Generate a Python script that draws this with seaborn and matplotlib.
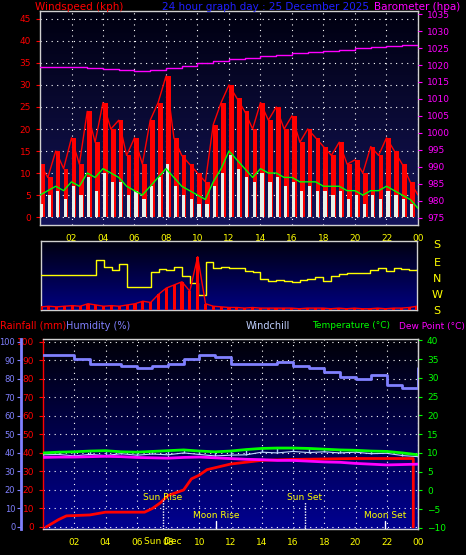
import numpy as np
import matplotlib
matplotlib.use("Agg")
import matplotlib.pyplot as plt
from matplotlib.colors import LinearSegmentedColormap
import seaborn as sns

sns.set_style("dark")
plt.rcParams['font.family'] = ['DejaVu Sans']

# ---------------- data ----------------
t_half = np.arange(0, 24.01, 0.5)          # 49 points
t_hour = np.arange(0, 25)                   # 25 points

gust = [12, 9, 15, 11, 18, 12, 24, 17, 26, 20, 22, 14, 18, 12, 22, 26, 32, 18, 14, 12,
        10, 8, 21, 26, 30, 27, 24, 20, 26, 22, 25, 20, 23, 17, 20, 18, 16, 14, 17, 12,
        13, 10, 16, 14, 18, 15, 12, 8, 5]
avg_speed = [5, 6, 7, 6, 8, 7, 10, 9, 11, 10, 9, 7, 6, 5, 7, 9, 11, 9, 7, 6, 5, 4, 8, 11,
             15, 13, 11, 9, 11, 10, 10, 9, 9, 8, 8, 8, 7, 7, 7, 6, 6, 5, 6, 6, 7, 6, 5, 4, 2]
speed = [3, 5, 6, 4, 7, 5, 9, 6, 10, 8, 8, 5, 6, 4, 7, 9, 12, 7, 5, 4, 3, 3, 7, 10, 14,
         11, 9, 8, 10, 8, 9, 7, 8, 6, 7, 6, 6, 5, 6, 4, 5, 3, 5, 4, 6, 5, 4, 3, 2]
baro = [1019.5, 1019.4, 1019.3, 1019.1, 1018.8, 1018.5, 1018.3, 1018.6, 1019.2, 1019.8,
        1020.6, 1021.3, 1021.8, 1022.2, 1022.6, 1023.0, 1023.4, 1023.8, 1024.2, 1024.5,
        1024.9, 1025.2, 1025.5, 1025.8, 1025.9]

wind_dir = [15, 15, 15, 15, 15, 15, 15, 95, 60, 40, 75, -55, -50, -50, 30, 45, 40, 60,
            10, -30, -95, 85, 55, 60, 50, 50, 35, 30, -10, -20, -15, -20, -25, -15, -10,
            5, -20, 10, 20, 25, 25, 25, 40, 55, 35, 50, 45, 40, 45]
dir_speed = [5, 6, 5, 6, 7, 6, 10, 8, 6, 7, 6, 8, 10, 14, 12, 25, 35, 40, 45, 30, 85, 10,
             6, 5, 4, 4, 3, 4, 3, 3, 3, 3, 3, 2, 3, 3, 3, 2, 3, 2, 3, 2, 2, 3, 2, 3, 3, 4, 6]

humidity = [93, 93, 91, 88, 88, 87, 86, 87, 88, 91, 93, 92, 88, 88, 88, 89, 87, 86, 84,
            81, 80, 82, 77, 75, 86]
rain_t = [0.2, 1, 1.5, 3, 4, 6.5, 7, 7.5, 8, 9, 9.5, 10, 10.5, 12, 14, 16, 20, 23.7, 23.7]
rain = [0, 4, 6, 6.5, 8, 8, 10, 13, 17, 20, 26, 28, 31, 34, 36, 36.5, 37, 37, 0]
temp = [10.0, 10.2, 10.3, 10.5, 10.6, 10.3, 10.2, 10.4, 10.6, 10.8, 10.5, 10.3, 10.5,
        10.9, 11.2, 11.3, 11.3, 11.2, 11.0, 10.8, 10.7, 10.5, 10.4, 10.0, 9.5]
dew = [8.8, 8.9, 8.9, 9.0, 9.1, 9.0, 8.8, 8.7, 8.6, 8.8, 8.9, 8.7, 8.5, 8.3, 8.2, 8.0,
       8.0, 7.8, 7.6, 7.5, 7.2, 7.0, 6.8, 6.9, 7.0]
windchill = [9.5, 9.6, 9.2, 9.6, 9.3, 9.8, 9.4, 9.7, 9.5, 10.0, 9.6, 9.2, 9.4, 9.5, 10.2,
             10.0, 10.4, 10.1, 10.3, 10.0, 10.2, 9.8, 9.9, 9.3, 9.0]

hour_ticks = list(range(2, 25, 2))
hour_labels = ["02", "04", "06", "08", "10", "12", "14", "16", "18", "20", "22", "00"]
events = [("Sun Rise", 7.68, 497, 500), ("Moon Rise", 11.1, 516, 521),
          ("Sun Set", 16.77, 497, 502), ("Moon Set", 21.9, 516, 521)]

# ---------------- figure ----------------
W, H = 466, 555
fig = plt.figure(figsize=(W / 100, H / 100), dpi=100, facecolor="black")

def pax(x0, y0, x1, y1):
    return fig.add_axes([x0 / W, 1 - y1 / H, (x1 - x0) / W, (y1 - y0) / H])

def grad(ax, c_top, c_bot):
    cm = LinearSegmentedColormap.from_list("g", [c_bot, c_top])
    ax.imshow(np.linspace(0, 1, 100).reshape(-1, 1), cmap=cm, origin="lower",
              extent=[0, 1, 0, 1], transform=ax.transAxes, aspect="auto", zorder=0)

def frame(ax):
    for s in ax.spines.values():
        s.set_color("#d0d0d0")
        s.set_linewidth(1)
    ax.set_xlim(0, 24)
    ax.grid(True, color="white", linestyle=(0, (1, 4)), linewidth=0.8)

fs = 6.5

# ---------- top panel ----------
ax1 = pax(40, 11, 418, 225)
grad(ax1, "#000010", "#14145a")
frame(ax1)
ax1.set_ylim(-1.8, 46.8)
ax1.set_yticks(range(0, 46, 5))
ax1.tick_params(axis="y", colors="red", labelsize=fs, length=3)
ax1.set_xticks(hour_ticks)
ax1.set_xticklabels(hour_labels)
ax1.tick_params(axis="x", colors="#e0e0e0", labelcolor="yellow", labelsize=fs, length=3)
ax1.bar(t_half, gust, width=0.3, color="red", zorder=2, align="edge", linewidth=0)
sns.lineplot(x=t_half, y=gust, ax=ax1, color="red", linewidth=1, zorder=2)
ax1.bar(t_half, speed, width=0.2, color="#e8f0e8", zorder=3, align="edge", linewidth=0)
sns.lineplot(x=t_half, y=avg_speed, ax=ax1, color="#00ff00", linewidth=1, zorder=4)
ax1b = ax1.twinx()
ax1b.set_ylim(972.9, 1035.9)
ax1b.set_yticks(range(975, 1036, 5))
ax1b.tick_params(axis="y", colors="magenta", labelsize=fs, length=3)
sns.lineplot(x=t_hour, y=baro, ax=ax1b, color="magenta", linewidth=1, drawstyle="steps-post")
for s in ax1b.spines.values():
    s.set_visible(False)
ax1b.grid(False)

fig.text(35 / W, 1 - 7 / H, "Windspeed (kph)", color="red", fontsize=7.5, va="center")
fig.text(265 / W, 1 - 7 / H, "24 hour graph day : 25 December 2025", color="#2020ff",
         fontsize=7.5, va="center", ha="center")
fig.text(460 / W, 1 - 7 / H, "Barometer (hpa)", color="magenta", fontsize=7.5,
         va="center", ha="right")

# ---------- middle panel ----------
ax2 = pax(41, 241, 417, 310)
grad(ax2, "#000010", "#000080")
frame(ax2)
ax2.grid(False)
ax2.set_xticks([])
ax2.set_yticks([])
ax2.set_ylim(-180, 202)
sns.lineplot(x=t_half, y=wind_dir, ax=ax2, color="yellow", linewidth=1,
             drawstyle="steps-post", zorder=3)
ax2b = ax2.twinx()
ax2b.set_ylim(0, 110)
ax2b.set_yticks([])
ax2b.bar(t_half, dir_speed, width=0.2, color="red", zorder=2, linewidth=0)
sns.lineplot(x=t_half, y=dir_speed, ax=ax2b, color="red", linewidth=1, zorder=2)
for s in ax2b.spines.values():
    s.set_visible(False)
for lab, y in zip(["S", "E", "N", "W", "S"], [245, 263, 279, 295, 311]):
    fig.text(437 / W, 1 - y / H, lab, color="yellow", fontsize=8, ha="center", va="center")

# ---------- bottom panel ----------
ax3 = pax(43, 339, 418, 529)
grad(ax3, "#000008", "#000090")
frame(ax3)
ax3.set_ylim(-1.1, 101.6)
ax3.set_yticks(range(0, 101, 10))
ax3.tick_params(axis="y", colors="red", labelsize=fs, length=3)
ax3.spines["left"].set_color("red")
ax3.set_xticks(hour_ticks)
ax3.set_xticklabels(hour_labels)
ax3.set_xticks(range(1, 24), minor=True)
ax3.tick_params(axis="x", which="both", colors="#d0d0d0", labelcolor="yellow",
                labelsize=fs, length=3)

axh = ax3.twinx()
axh.yaxis.set_ticks_position("left")
axh.yaxis.set_label_position("left")
axh.spines["left"].set_position(("axes", -0.059))
axh.spines["left"].set_color("#8080ff")
axh.spines["left"].set_linewidth(2)
for k in ("right", "top", "bottom"):
    axh.spines[k].set_visible(False)
axh.set_ylim(-1.1, 101.6)
axh.set_yticks(range(0, 101, 10))
axh.tick_params(axis="y", colors="#8080ff", labelsize=6, length=3, pad=1)
axh.grid(False)
sns.lineplot(x=t_hour, y=humidity, ax=axh, color="#8080ff", linewidth=2,
             drawstyle="steps-post")

axt = ax3.twinx()
axt.set_ylim(-10.3, 40.4)
axt.set_yticks(range(-10, 41, 5))
axt.tick_params(axis="y", colors="#00ff00", labelsize=fs, length=3)
axt.spines["right"].set_color("#d0d0d0")
for k in ("left", "top", "bottom"):
    axt.spines[k].set_visible(False)
axt.grid(False)
axt.vlines(t_hour, windchill, temp, color="#b0c8ff", linewidth=1)
sns.lineplot(x=t_hour, y=windchill, ax=axt, color="#c0d8ff", linewidth=0.8)
sns.lineplot(x=t_hour, y=dew, ax=axt, color="magenta", linewidth=2)
sns.lineplot(x=t_hour, y=temp, ax=axt, color="#00ff00", linewidth=2)
sns.lineplot(x=rain_t, y=rain, ax=ax3, color="red", linewidth=2, sort=False,
             estimator=None, zorder=5)

for name, h, ylab, yline in events:
    x_px = 43 + h / 24 * 375
    fig.text(x_px / W, 1 - ylab / H, name, color="yellow", fontsize=6.5, ha="center",
             va="center")
    ax3.plot([h, h], [-1, (529 - yline) / 190 * 102.7 - 1.1], color="white",
             linewidth=1, linestyle=(0, (1, 1)) if "Sun" in name else "-", zorder=6)
fig.text((43 + 7.68 / 24 * 375) / W, 1 - 542 / H, "Sun Dec", color="yellow",
         fontsize=6.5, ha="center", va="center")

fig.text(0 / W, 1 - 326 / H, "Rainfall (mm)", color="red", fontsize=7, va="center")
fig.text(66 / W, 1 - 326 / H, "Humidity (%)", color="#8080ff", fontsize=7, va="center")
fig.text(246 / W, 1 - 326 / H, "Windchill", color="#c0d0ff", fontsize=7, va="center")
fig.text(312 / W, 1 - 326 / H, "Temperature (°C)", color="#00ff00", fontsize=6.5,
         va="center")
fig.text(465 / W, 1 - 326 / H, "Dew Point (°C)", color="magenta", fontsize=6.5,
         va="center", ha="right")

for a in (ax1, ax1b, ax2, ax2b, ax3, axh, axt):
    a.set_xlabel("")
    a.set_ylabel("")
    a.set_facecolor("none")
    if a.get_legend():
        a.get_legend().remove()
ax1.set_xlim(0, 24)
ax2.set_xlim(0, 24)
ax3.set_xlim(0, 24)

fig.savefig("out.png", dpi=100, facecolor="black")
